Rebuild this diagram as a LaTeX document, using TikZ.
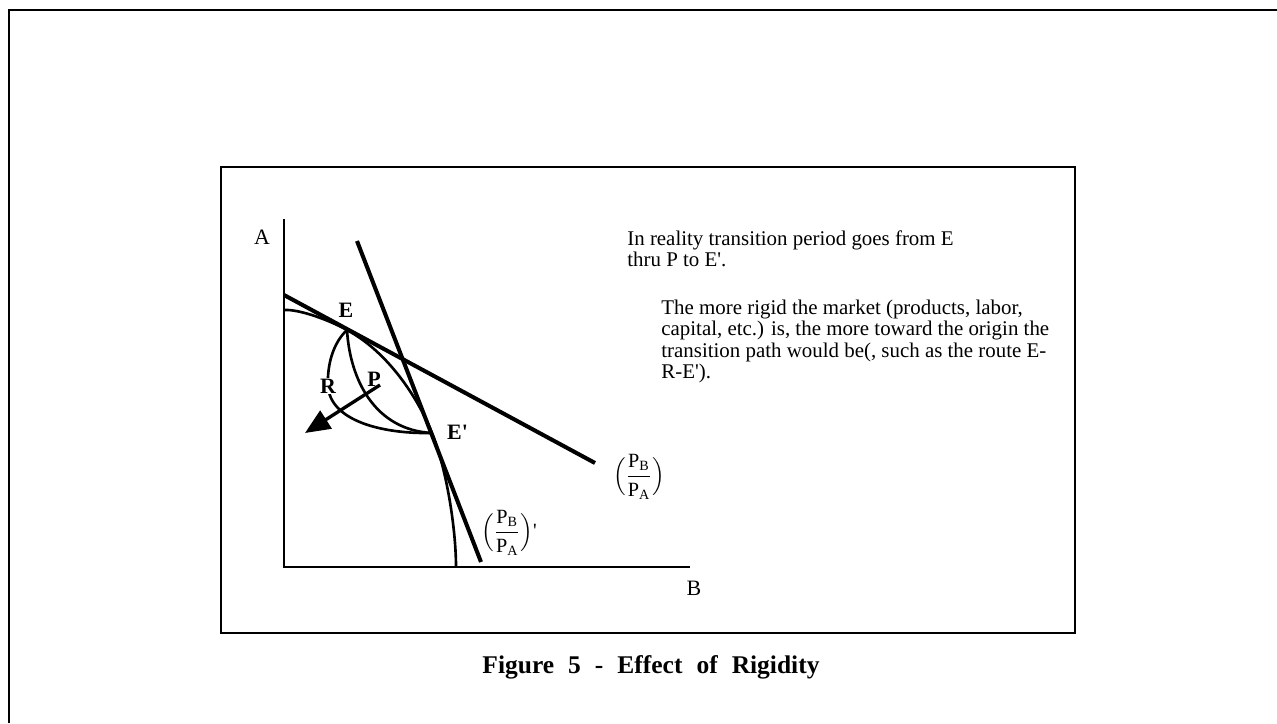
\documentclass[tikz,border=0pt]{standalone}
\usepackage{fontspec}
\setmainfont{Liberation Serif}
\usepackage{amsmath}
\usetikzlibrary{arrows.meta, positioning}
\newcommand{\primemark}{\textquotesingle}

\begin{document}
\begin{tikzpicture}[x=0.02cm, y=-0.02cm,
  pricel/.style={line width=2.3pt},
  curvel/.style={line width=1.5pt},
  ptlabel/.style={font=\fontsize{12.5}{14}\selectfont\bfseries, inner sep=1pt},
  axlabel/.style={font=\fontsize{12.5}{14}\selectfont, inner sep=0pt},
  ratio/.style={font=\fontsize{11.5}{13}\selectfont, inner sep=0pt},
  notes/.style={font=\fontsize{11.9}{12}\selectfont, align=left, anchor=north west, inner sep=0pt}]
  \useasboundingbox (0,0) rectangle (1277,723);
  \draw[line width=1.5pt] (9,723) -- (9,10) -- (1277,10);
  \draw[line width=0.85pt] (221,167) rectangle (1075,633);

  \coordinate (O) at (284,567);
  \coordinate (Atop) at (284,219);
  \coordinate (Bend) at (690,567);
  \coordinate (p1s) at (284,295);
  \coordinate (p1e) at (595,463);
  \coordinate (p2s) at (357,241);
  \coordinate (p2e) at (481,562);
  \coordinate (E) at (347,330);
  \coordinate (Ep) at (432,433);
  \coordinate (r) at (328,386);
  \coordinate (arrs) at (380,385);
  \coordinate (arre) at (305,433);

  \draw[line width=1.2pt] (Atop) -- (O) -- (Bend);
  \node[axlabel] (labA) at (262,237) {A};
  \node[axlabel] (labB) at (694,588) {B};

  \draw[pricel] (p1s) -- (p1e);
  \draw[pricel] (p2s) -- (p2e);

  \draw[curvel] (284,310) .. controls (300,309) and (331,321) .. (E)
    .. controls (395,356) and (423,410) .. (Ep)
    .. controls (447,470) and (456,530) .. (456,567);
  \draw[curvel] (E) .. controls (350,380) and (375,430) .. (Ep);
  \draw[curvel] (E) .. controls (333,343) and (327,365) .. (r)
    .. controls (330,420) and (380,434) .. (Ep);

  \node[ptlabel, fill=white, inner sep=0.5pt] (labR) at (r) {R};
  \node[ptlabel] (labP) at (374,379) {P};
  \node[ptlabel] (labE) at (346,310) {E};
  \node[ptlabel, anchor=west] (labEp) at (445,432) {E\primemark};

  \draw[line width=1.9pt, -{Triangle[length=0.5cm, width=0.42cm]}] (arrs) -- (arre);

  \node[ratio] (ratio1) at (639,477) {$\Bigl(\dfrac{\text{P\textsubscript{B}}}{\text{P\textsubscript{A}}}\Bigr)$};
  \node[ratio] (ratio2) at (509,533) {$\Bigl(\dfrac{\text{P\textsubscript{B}}}{\text{P\textsubscript{A}}}\Bigr)$\primemark};

  \node[notes] (note1) at (627,230) {In reality transition period goes from E\\thru P to E\primemark.};
  \node[notes] (note2) at (661,300) {The more rigid the market (products, labor,\\capital, etc.) is, the more toward the origin the\\transition path would be(, such as the route E-\\R-E\primemark).};

  \node[font=\fontsize{14.5}{16}\selectfont\bfseries] (caption) at (651,667) {Figure\hspace{0.55em}5\hspace{0.55em}-\hspace{0.55em}Effect\hspace{0.55em}of\hspace{0.55em}Rigidity};
\end{tikzpicture}
\end{document}
